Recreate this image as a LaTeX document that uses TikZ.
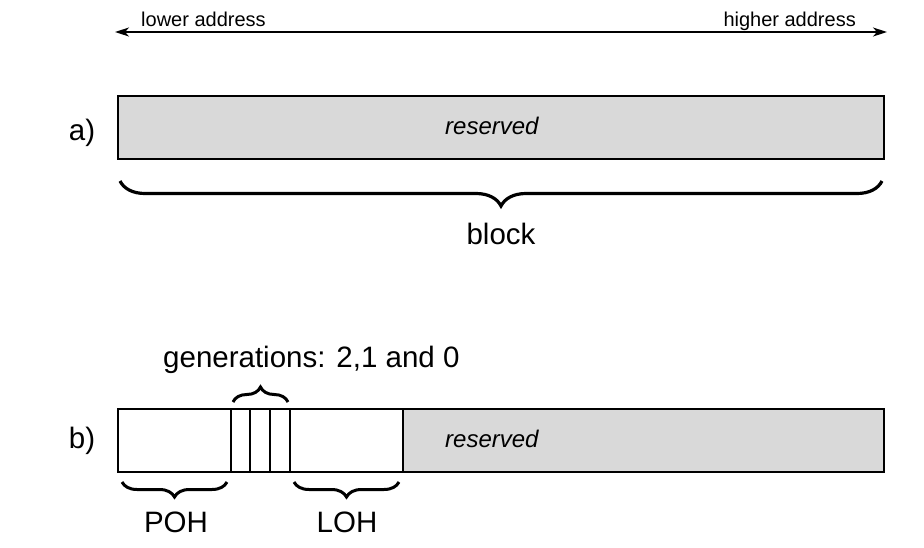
\documentclass[tikz,border=0pt]{standalone}
\usepackage{fontspec}
\setmainfont{Liberation Sans}
\usepackage{xcolor}
\usetikzlibrary{positioning}
\usetikzlibrary{arrows.meta}
\usetikzlibrary{decorations.pathreplacing}
\definecolor{resgray}{HTML}{D9D9D9}
\tikzstyle{reservedcell} = [rectangle, minimum height=63pt, inner sep=0pt, outer sep=0pt, draw=black, line width=1.5pt, fill=resgray]
\tikzstyle{cell} = [rectangle, minimum height=63pt, inner sep=0pt, outer sep=0pt, draw=black, line width=1.5pt, fill=white]
\tikzstyle{bigbrace} = [decorate, decoration={brace, amplitude=25pt, mirror}, line width=3.2pt]
\tikzstyle{smallbrace} = [decorate, decoration={brace, amplitude=15pt}, line width=3pt]
\tikzstyle{arrow} = [line width=1.4pt, {Stealth[length=14pt, width=9pt, inset=4pt]}-{Stealth[length=14pt, width=9pt, inset=4pt]}]
\tikzstyle{bigtext} = [inner sep=0pt, font=\fontsize{29.5}{33}\selectfont]
\tikzstyle{restext} = [inner sep=0pt, font=\fontsize{24}{27}\selectfont\itshape]
\tikzstyle{addrtext} = [inner sep=0pt, font=\fontsize{20}{23}\selectfont]

\begin{document}
\begin{tikzpicture}[x=1pt, y=-1pt]
        \useasboundingbox (0,0) rectangle (924,547);

        % address direction
        \coordinate (lowend) at (115,32);
        \coordinate (highend) at (887,32);
        \draw [arrow] (lowend) -- (highend);
        \node (lower) [addrtext, anchor=base west] at (141,26) {lower address};
        \node (higher) [addrtext, anchor=base east] at (856,26) {higher address};

        % a) one reserved block
        \node (labela) [bigtext, anchor=base] at (82,140) {a)};
        \node (boxa) [reservedcell, minimum width=766pt, anchor=north west] at (118,96) {};
        \node (resa) [restext, anchor=base west] at (445,134) {reserved};
        \draw [bigbrace] ([xshift=2pt, yshift=-22pt]boxa.south west) -- ([xshift=-2pt, yshift=-22pt]boxa.south east);
        \node (block) [bigtext, anchor=base] at (501,244) {block};

        % b) heaps inside the block
        \node (labelb) [bigtext, anchor=base] at (82,448) {b)};
        \node (poh) [cell, minimum width=113pt, anchor=north west] at (118,409) {};
        \node (gentwo) [cell, minimum width=19pt, right=0pt of poh] {};
        \node (genone) [cell, minimum width=20pt, right=0pt of gentwo] {};
        \node (genzero) [cell, minimum width=20pt, right=0pt of genone] {};
        \node (loh) [cell, minimum width=113pt, right=0pt of genzero] {};
        \node (resb) [reservedcell, minimum width=481pt, right=0pt of loh] {};
        \node (restextb) [restext, anchor=base west] at (445,447) {reserved};

        \draw [smallbrace] ([xshift=2pt, yshift=7pt]gentwo.north west) -- ([xshift=-2pt, yshift=7pt]genzero.north east);
        \node (gens) [bigtext, anchor=base west] at (163,367) {generations: 2,1 and 0};

        \draw [smallbrace, decoration={mirror}] ([xshift=4pt, yshift=-10pt]poh.south west) -- ([xshift=-4pt, yshift=-10pt]poh.south east);
        \draw [smallbrace, decoration={mirror}] ([xshift=4pt, yshift=-10pt]loh.south west) -- ([xshift=-4pt, yshift=-10pt]loh.south east);
        \node (pohtext) [bigtext, anchor=base] at (176,532) {POH};
        \node (lohtext) [bigtext, anchor=base] at (347,532) {LOH};
    \end{tikzpicture}
\end{document}
